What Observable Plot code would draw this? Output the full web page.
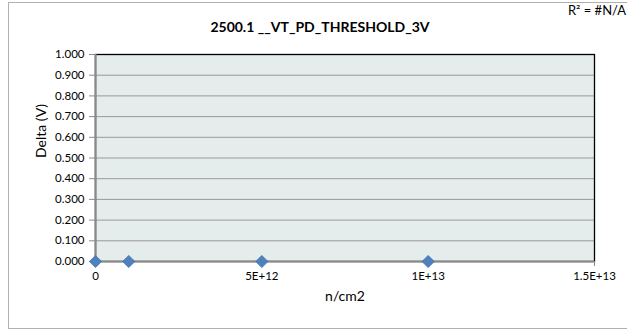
<!DOCTYPE html>
<html><head><meta charset="utf-8">
<script src="https://cdn.jsdelivr.net/npm/d3@7"></script>
<script src="https://cdn.jsdelivr.net/npm/@observablehq/plot@0.6"></script>
<style>
html,body{margin:0;padding:0;background:#fff;}
#wrap{position:relative;width:627px;height:333px;overflow:hidden;font-family:Lato,"Open Sans",sans-serif;}
#frame{position:absolute;left:8px;top:2px;width:640px;height:327px;border:1.5px solid #b0b0b0;box-sizing:border-box;}
#title{position:absolute;left:0;width:640px;top:18px;text-align:center;font-weight:bold;font-size:14px;line-height:18px;color:#000;}
#r2{position:absolute;right:1px;top:2px;font-size:13px;line-height:16px;color:#000;white-space:nowrap;}
#chart{position:absolute;left:0;top:0;}
</style></head>
<body><div id="wrap"><div id="frame"></div><div id="chart"></div><div id="title"></div><div id="r2"></div></div>
<script>
const chartTitle = "2500.1 __VT_PD_THRESHOLD_3V";
const r2Label = "R² = #N/A";
const xLabel = "n/cm2";
const yLabel = "Delta (V)";
const fluence = [0, 1e12, 5e12, 1e13];
const delta = [0, 0, 0, 0];
const xTicks = [0, 5e12, 1e13, 1.5e13];
const xTickLabels = ["0", "5E+12", "1E+13", "1.5E+13"];
const yTicks = [0, 0.1, 0.2, 0.3, 0.4, 0.5, 0.6, 0.7, 0.8, 0.9, 1.0];

document.getElementById("title").textContent = chartTitle;
document.getElementById("r2").textContent = r2Label;

const pts = fluence.map((f, i) => ({x: f, y: delta[i]}));
const xfmt = (d) => xTickLabels[xTicks.indexOf(d)];
const chart = Plot.plot({
  width: 627, height: 333,
  marginLeft: 95, marginRight: 33, marginTop: 54, marginBottom: 72,
  style: {fontFamily: "Lato, 'Open Sans', sans-serif", fontSize: "11.5px", background: "transparent", overflow: "visible"},
  x: {domain: [0, 1.5e13], ticks: xTicks, tickFormat: xfmt, label: null},
  y: {domain: [0, 1], ticks: yTicks, tickFormat: d3.format(".3f"), label: null},
  marks: [
    Plot.frame({fill: "#e5ecec"}),
    Plot.gridY(yTicks, {stroke: "#999999", strokeOpacity: 1, strokeWidth: 1}),
    Plot.frame({stroke: "#000", strokeWidth: 1.3}),
    Plot.ruleX([0], {stroke: "#8a8a8a", strokeWidth: 2}),
    Plot.ruleY([0], {stroke: "#8a8a8a", strokeWidth: 2}),
    Plot.axisY(yTicks, {tickSize: 6, tickPadding: 5, stroke: "#8a8a8a", fill: "#000", fontSize: 11.5, tickFormat: d3.format(".3f")}),
    Plot.axisX(xTicks, {tickSize: 5, tickPadding: 5, stroke: "#8a8a8a", fill: "#000", fontSize: 11.5, tickFormat: xfmt}),
    Plot.text([xLabel], {frameAnchor: "bottom", dy: 39, text: d => d, fontSize: 14, fill: "#000"}),
    Plot.text([yLabel], {frameAnchor: "left", dx: -54, rotate: -90, text: d => d, fontSize: 14, fill: "#000"}),
    Plot.dot(pts, {x: "x", y: "y", symbol: "diamond2", r: 5.5, fill: "#4f81bd", stroke: "#4272ad", strokeWidth: 0.8})
  ]
});
document.getElementById("chart").appendChild(chart);
</script></body></html>
